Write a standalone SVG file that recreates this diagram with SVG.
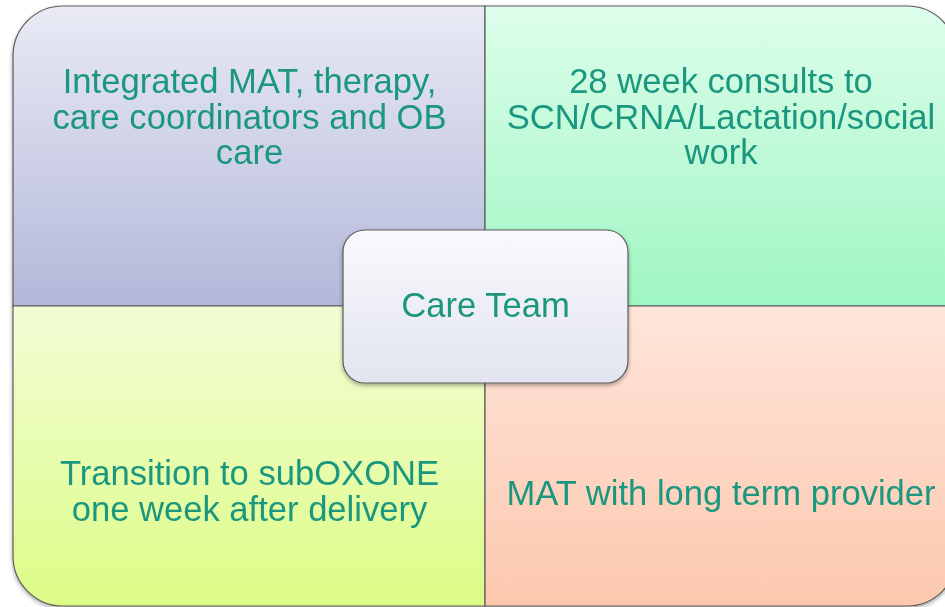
<svg xmlns="http://www.w3.org/2000/svg" width="945" height="607" viewBox="0 0 945 607">
  <defs>
    <linearGradient id="gTL" x1="0" y1="0" x2="0" y2="1">
      <stop offset="0" stop-color="#e9eaf5"/>
      <stop offset="1" stop-color="#b3b8d9"/>
    </linearGradient>
    <linearGradient id="gTR" x1="0" y1="0" x2="0" y2="1">
      <stop offset="0" stop-color="#ddfeeb"/>
      <stop offset="1" stop-color="#9ff6c3"/>
    </linearGradient>
    <linearGradient id="gBL" x1="0" y1="0" x2="0" y2="1">
      <stop offset="0" stop-color="#f3fdd6"/>
      <stop offset="1" stop-color="#dcfc86"/>
    </linearGradient>
    <linearGradient id="gBR" x1="0" y1="0" x2="0" y2="1">
      <stop offset="0" stop-color="#ffe5da"/>
      <stop offset="1" stop-color="#fcc8ae"/>
    </linearGradient>
    <linearGradient id="gC" x1="0" y1="0" x2="0" y2="1">
      <stop offset="0" stop-color="#f9f9fd"/>
      <stop offset="1" stop-color="#e2e4ef"/>
    </linearGradient>
    <filter id="sh" x="-10%" y="-10%" width="120%" height="125%">
      <feGaussianBlur in="SourceAlpha" stdDeviation="2"/>
      <feOffset dx="0" dy="2" result="b"/>
      <feComponentTransfer><feFuncA type="linear" slope="0.35"/></feComponentTransfer>
      <feMerge><feMergeNode/><feMergeNode in="SourceGraphic"/></feMerge>
    </filter>
  </defs>
  <style>
    .q { stroke: #5c5c5c; stroke-width: 1.2; }
    .t { font-family: "Liberation Sans", Arial, sans-serif; font-size: 34.6px; fill: #1a977f; text-anchor: middle; }
  </style>
  <rect width="945" height="607" fill="#ffffff"/>
  <g filter="url(#sh)">
    <g id="node-tl">
      <path class="q" fill="url(#gTL)" d="M13,306 V56 A50,50 0 0 1 63,6 H485 V306 Z"/>
      <text class="t" x="249.5" y="93">Integrated MAT, therapy,</text>
      <text class="t" x="249.5" y="129">care coordinators and OB</text>
      <text class="t" x="249.5" y="164">care</text>
    </g>
    <g id="node-tr">
      <path class="q" fill="url(#gTR)" d="M485,6 H907 A50,50 0 0 1 957,56 V306 H485 Z"/>
      <text class="t" x="721" y="93">28 week consults to</text>
      <text class="t" x="721" y="129">SCN/CRNA/Lactation/social</text>
      <text class="t" x="721" y="164">work</text>
    </g>
    <g id="node-bl">
      <path class="q" fill="url(#gBL)" d="M13,306 H485 V606 H63 A50,50 0 0 1 13,556 Z"/>
      <text class="t" x="249.5" y="485">Transition to subOXONE</text>
      <text class="t" x="249.5" y="521">one week after delivery</text>
    </g>
    <g id="node-br">
      <path class="q" fill="url(#gBR)" d="M485,306 H957 V556 A50,50 0 0 1 907,606 H485 Z"/>
      <text class="t" x="721" y="505">MAT with long term provider</text>
    </g>
  </g>
  <g id="connectors"></g>
  <g id="node-center" filter="url(#sh)">
    <rect class="q" x="343" y="230" width="285" height="153" rx="22" ry="22" fill="url(#gC)"/>
    <text class="t" x="485.5" y="317">Care Team</text>
  </g>
</svg>
